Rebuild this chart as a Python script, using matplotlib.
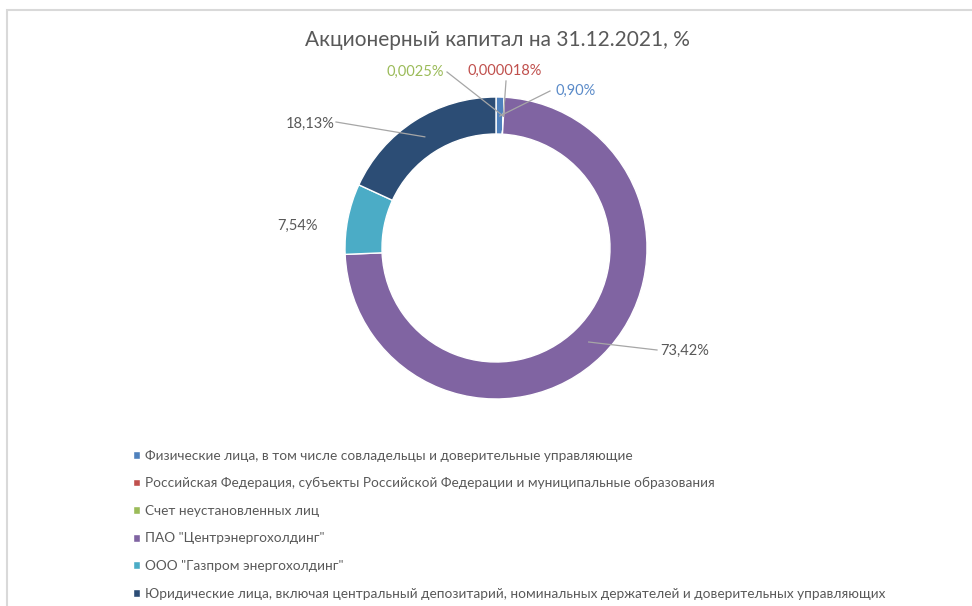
import matplotlib
matplotlib.use("Agg")
import matplotlib.pyplot as plt
from matplotlib.patches import Rectangle
import numpy as np

plt.rcParams['font.family'] = ['Lato', 'DejaVu Sans']

# данные
categories = [
    "Физические лица, в том числе совладельцы и доверительные управляющие",
    "Российская Федерация, субъекты Российской Федерации и муниципальные образования",
    "Счет неустановленных лиц",
    'ПАО "Центрэнергохолдинг"',
    'ООО "Газпром энергохолдинг"',
    "Юридические лица, включая центральный депозитарий, номинальных держателей и доверительных управляющих",
]
shares = [0.90, 0.000018, 0.0025, 73.42, 7.54, 18.13]
share_labels = ["0,90%", "0,000018%", "0,0025%", "73,42%", "7,54%", "18,13%"]
colors = ["#4F81BD", "#C0504D", "#9BBB59", "#8064A2", "#4BACC6", "#2C4D75"]

# расположение подписей (в пикселях картинки)
label_xy = [(576, 91), (505, 71), (415, 72), (685, 351), (297, 226), (310, 124)]
leader_from = [(550, 91), (506, 81), (447, 72), (657, 350), None, (336, 122)]
label_colors = ["#5B8BC9", "#C0504D", "#9BBB59", "#595959", "#595959", "#595959"]

W, H = 972, 606
fig = plt.figure(figsize=(W / 100, H / 100), dpi=100)
ax = fig.add_axes([0, 0, 1, 1])

cx, cy, R = 496, 248, 151
wedges, _ = ax.pie(shares, colors=colors, startangle=-90, counterclock=True,
                   radius=R, center=(cx, cy), normalize=True,
                   wedgeprops=dict(width=37, edgecolor="white", linewidth=1))
ax.set_xlim(0, W)
ax.set_ylim(H, 0)
ax.axis("off")

r_mid = R - 19
for w, txt, pos, start, col in zip(wedges, share_labels, label_xy, leader_from, label_colors):
    ang = np.deg2rad((w.theta1 + w.theta2) / 2)
    px = cx + r_mid * np.cos(ang)
    py = cy + r_mid * np.sin(ang)
    if start is not None:
        ax.plot([start[0], px], [start[1], py], color="#A6A6A6", lw=0.9)
    ax.text(pos[0], pos[1], txt, color=col, fontsize=10.5, ha="center", va="center")

fig.text(497 / W, 1 - 40 / H, "Акционерный капитал на 31.12.2021, %",
         color="#595959", fontsize=15, ha="center", va="center")

leg = fig.legend(wedges, categories, loc="upper left",
                 bbox_to_anchor=(126 / W, 1 - 443 / H), frameon=False,
                 fontsize=9.8, labelcolor="#595959", handlelength=0.5,
                 handleheight=0.5, handletextpad=0.4, labelspacing=1.14,
                 borderpad=0)

fig.add_artist(Rectangle((7 / W, -0.1), 1.2, (H - 10) / H + 0.1,
                         transform=fig.transFigure, fill=False,
                         edgecolor="#D9D9D9", lw=1.5))

fig.savefig("out.png", dpi=100)
